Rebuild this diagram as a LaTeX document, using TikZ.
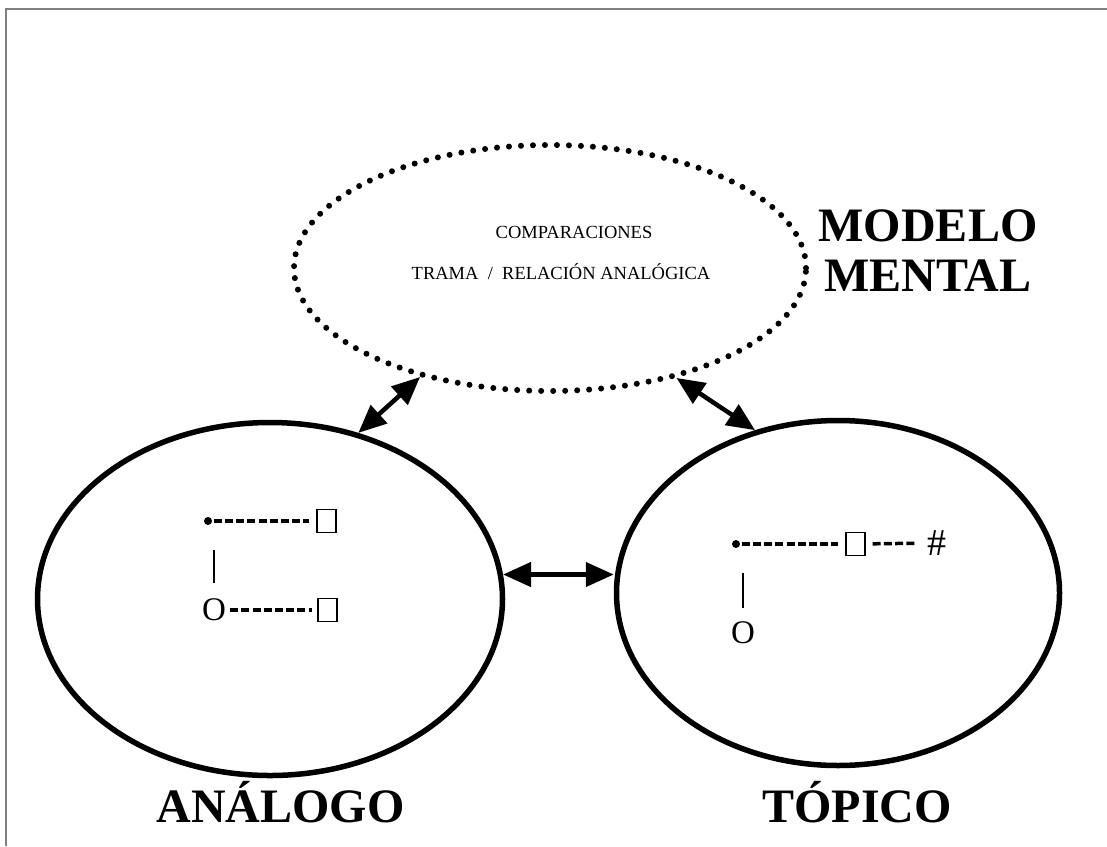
\documentclass[tikz,border=0pt]{standalone}
\usepackage{fontspec}
\setmainfont{Liberation Serif}
\usetikzlibrary{shapes.geometric,arrows.meta}

\begin{document}
\begin{tikzpicture}[x=1pt, y=-1pt]
  \tikzstyle{oval}=[draw, ellipse, line width=5.5pt, inner sep=0pt]
  \tikzstyle{link}=[line width=4.5pt, {Triangle[length=28pt,width=24pt]}-{Triangle[length=28pt,width=24pt]}]
  \tikzstyle{dashes}=[line width=3.5pt, dash pattern=on 8pt off 3.2pt]
  \tikzstyle{slot}=[draw, line width=1.4pt, minimum width=19pt, minimum height=23pt, inner sep=0pt]
  \tikzstyle{dot}=[circle, fill, minimum size=8pt, inner sep=0pt]
  \tikzstyle{glyph}=[inner sep=0pt, font=\fontsize{33}{33}\selectfont]
  \tikzstyle{bar}=[line width=1.8pt]
  \tikzstyle{title}=[font=\fontsize{48}{50}\selectfont\bfseries, inner sep=0pt, anchor=base]
  \tikzstyle{small}=[font=\fontsize{18.5}{19}\selectfont, inner sep=0pt, anchor=base]

  \useasboundingbox (0,0) rectangle (1107,846);
  \draw[gray, line width=2pt] (6,846) |- (1107,9);

  % the three ovals
  \node[draw, ellipse, line width=6pt, dash pattern=on 0pt off 12pt, line cap=round,
        minimum width=512pt, minimum height=246pt] (modelo) at (550,268) {};
  \node[oval, minimum width=465pt, minimum height=353pt] (analogo) at (270,599) {};
  \node[oval, minimum width=443pt, minimum height=345pt] (topico) at (838,593) {};

  \draw[link] (analogo.62.5) -- (modelo.220);
  \draw[link] (topico.117.5) -- (modelo.319);
  \draw[link] (analogo.6.6) -- (analogo.6.6 -| topico.west);

  \node[small] (cmp) at (574,238) {COMPARACIONES};
  \node[small] (trama) at (561,279) {TRAMA \ / \ RELACIÓN ANALÓGICA};
  \node[title, anchor=center, align=center] (mm) at (928,251) {MODELO\\MENTAL};

  % left side
  \node[dot] (ldot) at (208,521) {};
  \node[slot] (lboxa) at (326.5,521) {};
  \draw[dashes, shorten <=1.5pt, shorten >=7pt] (ldot) -- (lboxa);
  \coordinate (lbar) at (214,550);
  \node[glyph] (lo) at (214,610) {O};
  \draw[bar, shorten >=16pt] (lbar) -- (lo);
  \node[slot] (lboxb) at (327.5,610) {};
  \draw[dashes, shorten <=4pt, shorten >=5pt] (lo) -- (lboxb);

  % right side
  \node[dot] (rdot) at (736,544) {};
  \node[slot] (rbox) at (855.5,544) {};
  \draw[dashes, shorten <=1.5pt, shorten >=7pt] (rdot) -- (rbox);
  \node[inner sep=0pt, font=\fontsize{38}{38}\selectfont] (hash) at (937,543) {\#};
  \draw[dashes, shorten <=7pt, shorten >=10pt] (rbox) -- (hash);
  \coordinate (rbar) at (743,573);
  \node[glyph] (ro) at (743,633) {O};
  \draw[bar, shorten >=14pt] (rbar) -- (ro);

  \node[title] (an) at (280.5,822) {ANÁLOGO};
  \node[title] (tp) at (857,822) {TÓPICO};
\end{tikzpicture}
\end{document}
